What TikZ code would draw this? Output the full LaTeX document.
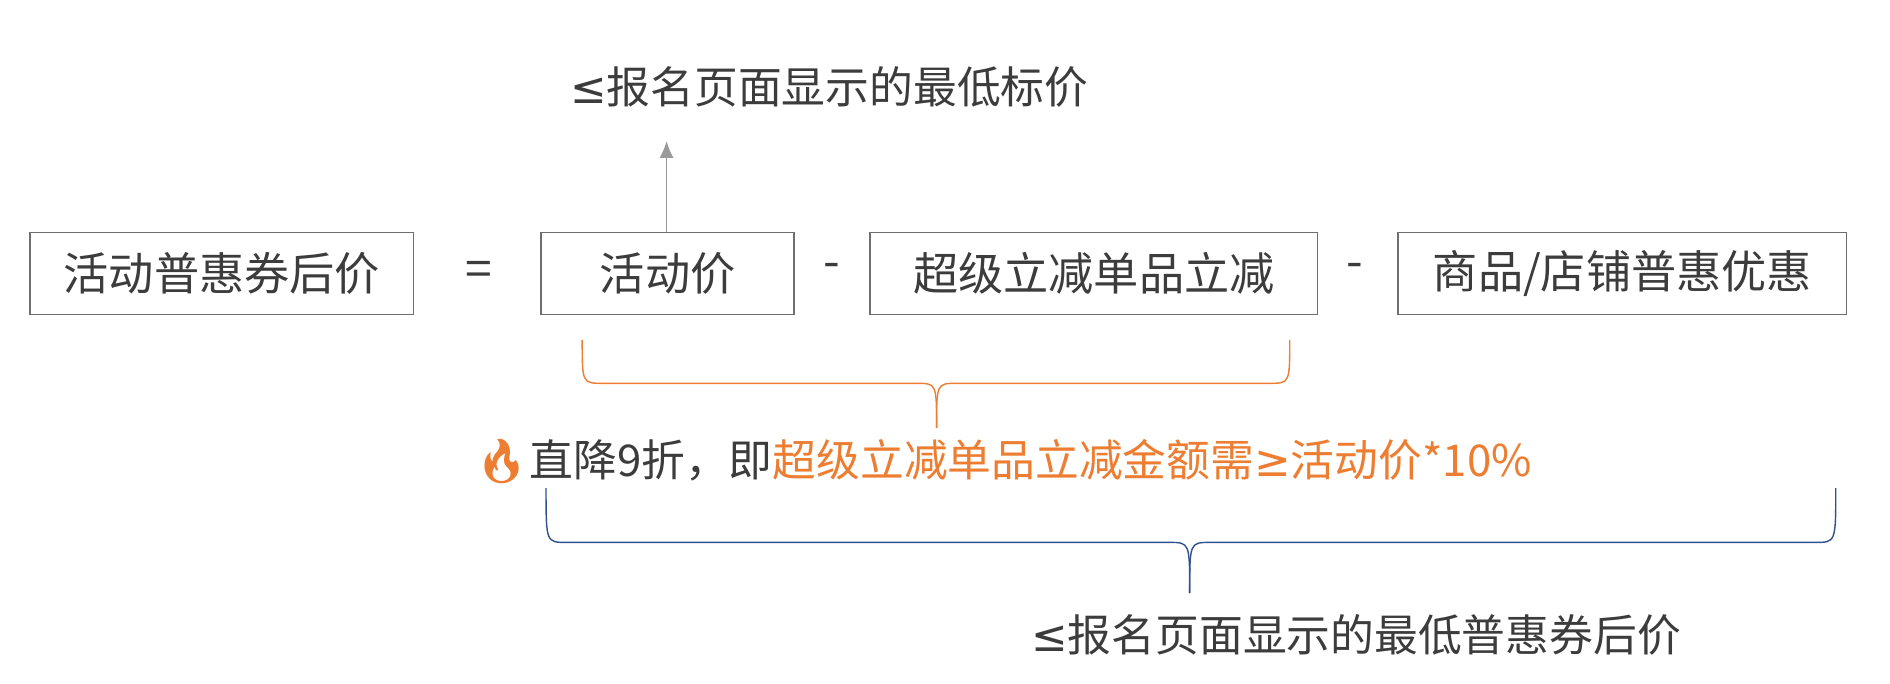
\documentclass[tikz,border=0pt]{standalone}
\usepackage{fontspec}
\usetikzlibrary{arrows.meta}
\setmainfont{Noto Sans CJK SC}
\newfontfamily\emojifont{Noto Emoji}
\newfontfamily\symfont{DejaVu Sans}
\definecolor{boxgray}{RGB}{110,110,110}
\definecolor{txtgray}{RGB}{60,60,60}
\definecolor{hotorange}{RGB}{237,125,49}
\definecolor{braceblue}{RGB}{47,82,143}
\begin{document}
\begin{tikzpicture}[x=0.03cm, y=-0.03cm,
    termbox/.style = {draw = boxgray, line width = 1.2pt, minimum height = 2.04cm, inner sep = 0pt, text = txtgray, font = \fontsize{32}{36}\selectfont},
    optext/.style = {text = txtgray, font = \fontsize{34}{38}\selectfont},
    note/.style = {text = txtgray, font = \fontsize{31}{36}\selectfont}]
	\useasboundingbox (0, 0) rectangle (1568, 567);

	\node [termbox, minimum width = 9.54cm] (price) at (184, 227) {活动普惠券后价};
	\node [optext] (eq) at (397, 227) {=};
	\node [termbox, minimum width = 6.3cm] (act) at (554, 227) {活动价};
	\node [optext] (m1) at (690, 225) {-};
	\node [termbox, minimum width = 11.13cm] (cut) at (907.5, 227) {超级立减单品立减};
	\node [optext] (m2) at (1124, 225) {-};
	\node [termbox, minimum width = 11.16cm] (shop) at (1346, 227) {商品/店铺普惠优惠};

	\node [note] (top) at (688, 72) {{\symfont ≤}报名页面显示的最低标价};
	\coordinate (arr) at (553, 117);
	\draw [boxgray!70, line width = 1pt, -{Latex[length = 12pt, width = 10pt]}] (act.north -| arr) -- (arr);

	% orange brace
	\draw [hotorange, line width = 1pt] (483, 282) .. controls (483, 318) .. (500, 318) -- (760, 318) .. controls (777, 318) .. (777, 355);
	\draw [hotorange, line width = 1pt] (1070, 282) .. controls (1070, 318) .. (1053, 318) -- (794, 318) .. controls (777, 318) .. (777, 355);

	\node [note, anchor = west, inner sep = 0pt] (rule) at (393, 383) {{\emojifont\color{hotorange}🔥}直降9折，即\textcolor{hotorange}{超级立减单品立减金额需{\symfont ≥}活动价*10\%}};

	% blue brace
	\draw [braceblue, line width = 1pt] (453, 405) .. controls (453, 450) .. (470, 450) -- (970, 450) .. controls (987, 450) .. (987, 492);
	\draw [braceblue, line width = 1pt] (1523, 405) .. controls (1523, 450) .. (1506, 450) -- (1004, 450) .. controls (987, 450) .. (987, 492);

	\node [note] (bottom) at (1125, 527) {{\symfont ≤}报名页面显示的最低普惠券后价};
\end{tikzpicture}
\end{document}
